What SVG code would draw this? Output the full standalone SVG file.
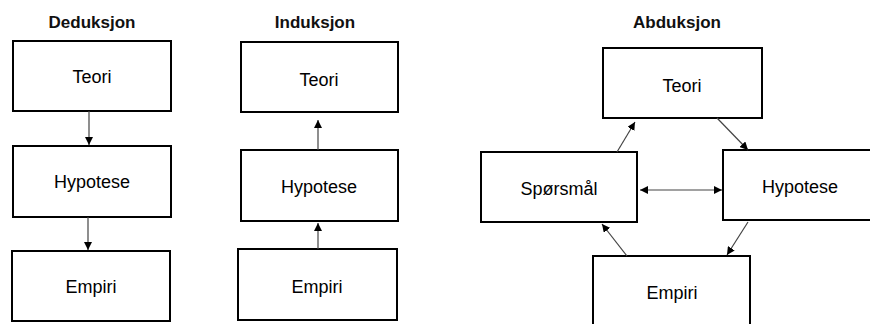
<svg xmlns="http://www.w3.org/2000/svg" width="870" height="324" viewBox="0 0 870 324">
<style>
.box{fill:#fff;stroke:#000;stroke-width:2}
.lbl{font-family:"Liberation Sans",Arial,sans-serif;font-size:18px;fill:#000;text-anchor:middle}
.ttl{font-family:"Liberation Sans",Arial,sans-serif;font-size:17px;font-weight:bold;fill:#111;text-anchor:middle}
.con{stroke:#444;stroke-width:1.2;fill:none;marker-end:url(#ah)}
</style>
<defs>
<marker id="ah" viewBox="0 0 10 10" refX="10" refY="5" markerWidth="8" markerHeight="8" markerUnits="userSpaceOnUse" orient="auto-start-reverse">
<path d="M0,0 L10,5 L0,10 Z" fill="#000"/>
</marker>
</defs>
<rect width="870" height="324" fill="#fff"/>
<text class="ttl" x="92" y="28">Deduksjon</text>
<text class="ttl" x="315" y="28">Induksjon</text>
<text class="ttl" x="677" y="28">Abduksjon</text>

<g id="d-teori"><rect class="box" x="13" y="41" width="158" height="70"/><text class="lbl" x="92" y="83">Teori</text></g>
<g id="d-hypotese"><rect class="box" x="13" y="146" width="158" height="71"/><text class="lbl" x="92" y="188">Hypotese</text></g>
<g id="d-empiri"><rect class="box" x="12" y="251" width="158" height="70"/><text class="lbl" x="91" y="293">Empiri</text></g>

<g id="i-teori"><rect class="box" x="241" y="42" width="157" height="70"/><text class="lbl" x="319" y="86">Teori</text></g>
<g id="i-hypotese"><rect class="box" x="241" y="150" width="157" height="71"/><text class="lbl" x="319" y="193">Hypotese</text></g>
<g id="i-empiri"><rect class="box" x="238" y="249" width="159" height="71"/><text class="lbl" x="317" y="293">Empiri</text></g>

<g id="a-teori"><rect class="box" x="603" y="48" width="159" height="70"/><text class="lbl" x="682" y="92">Teori</text></g>
<g id="a-sporsmal"><rect class="box" x="481" y="152" width="156" height="70"/><text class="lbl" x="559" y="195">Spørsmål</text></g>
<g id="a-hypotese"><rect class="box" x="723" y="150" width="160" height="70"/><text class="lbl" x="800" y="193">Hypotese</text></g>
<g id="a-empiri"><rect class="box" x="593" y="256" width="157" height="80"/><text class="lbl" x="672" y="299">Empiri</text></g>

<g id="connectors">
<line class="con" x1="89" y1="111" x2="89" y2="145"/>
<line class="con" x1="88" y1="217" x2="88" y2="250"/>
<line class="con" x1="318" y1="150" x2="318" y2="120"/>
<line class="con" x1="318" y1="249" x2="318" y2="223"/>
<line class="con" x1="617" y1="152" x2="635" y2="122"/>
<line class="con" x1="717" y1="118" x2="748" y2="150"/>
<line class="con" x1="640" y1="190" x2="722" y2="190" marker-start="url(#ah)"/>
<line class="con" x1="748" y1="222" x2="727" y2="255"/>
<line class="con" x1="627" y1="256" x2="602" y2="224"/>
</g>
</svg>
